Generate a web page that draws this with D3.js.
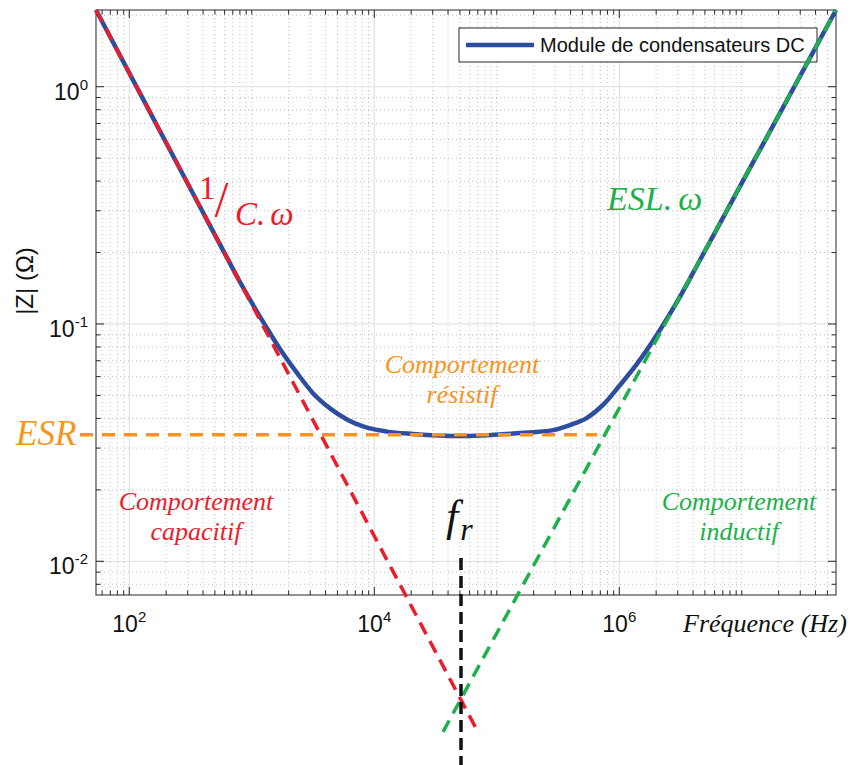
<!DOCTYPE html>
<html><head><meta charset="utf-8">
<script src="https://cdn.jsdelivr.net/npm/d3@7"></script>
<style>body{margin:0;background:#fff} svg{display:block}</style>
</head><body><svg id="c" width="850" height="765"></svg>
<script>
// ---- data ----
const freq = [53.5, 147.5, 377.7, 604.2, 801, 1306, 1699, 2339, 3159, 4349, 5987, 8087, 12700, 20700, 50060, 154700, 287500, 395900, 544900, 736200, 1013000, 1395000, 2149000, 2958000, 4559000, 9667000, 24750000, 58750000];
const zmod = [2.105, 0.7815, 0.312, 0.1974, 0.1503, 0.0975, 0.0784, 0.0622, 0.0511, 0.0441, 0.0396, 0.0370, 0.0352, 0.0344, 0.0337, 0.0347, 0.0357, 0.0375, 0.0402, 0.0456, 0.0553, 0.0679, 0.0943, 0.1238, 0.1861, 0.380, 0.9263, 2.105];
const capF = [53.5, 71560];      // 1/(C.w) asymptote
const capZ = [2.105, 0.001872];
const indF = [36380, 58750000];  // ESL.w asymptote
const indZ = [0.001909, 2.105];
const esrF = [39.6, 657700];     // ESR level
const esrZ = [0.0341, 0.0341];
const frF = [51030, 51030];      // resonance frequency
const frZ = [0.01032, 0.001385];
const xTickVals = [1e2, 1e4, 1e6];
const xTickExp = ["2", "4", "6"];
const yTickVals = [1e-2, 1e-1, 1e0];
const yTickExp = ["-2", "-1", "0"];
const legendLabel = "Module de condensateurs DC";
const xLabel = "Fréquence (Hz)";
const yLabel = "|Z| (Ω)";

// ---- layout ----
const L = 96, R = 836, T = 10, B = 595;
const x = d3.scaleLog().domain([53.5, 5.875e7]).range([L, R]);
const y = d3.scaleLog().domain([0.00721, 2.105]).range([B, T]);
const svg = d3.select("#c");
const sans = "'Liberation Sans', Arial, sans-serif";
const serif = "'Liberation Serif', 'Times New Roman', serif";

// minor values
const xMinor = [], yMinor = [];
for (let e = 1; e <= 7; e++) for (let k = 1; k <= 9; k++) {
  const v = k * Math.pow(10, e);
  if (v > 53.5 && v < 5.875e7 && !xTickVals.includes(v)) xMinor.push(v);
}
for (let e = -3; e <= 0; e++) for (let k = 1; k <= 9; k++) {
  const v = +(k * Math.pow(10, e)).toPrecision(6);
  if (v > 0.00721 && v < 2.105 && !yTickVals.some(t => Math.abs(t - v) < 1e-12)) yMinor.push(v);
}

// grid
const g = svg.append("g");
g.selectAll(".mx").data(xMinor).join("line").attr("x1", d => x(d)).attr("x2", d => x(d))
  .attr("y1", T).attr("y2", B).attr("stroke", "#b0b0b0").attr("stroke-width", 0.8).attr("stroke-dasharray", "1,3");
g.selectAll(".my").data(yMinor).join("line").attr("y1", d => y(d)).attr("y2", d => y(d))
  .attr("x1", L).attr("x2", R).attr("stroke", "#b0b0b0").attr("stroke-width", 0.8).attr("stroke-dasharray", "1,3");
g.selectAll(".Mx").data(xTickVals).join("line").attr("x1", d => x(d)).attr("x2", d => x(d))
  .attr("y1", T).attr("y2", B).attr("stroke", "#dedede").attr("stroke-width", 1);
g.selectAll(".My").data(yTickVals).join("line").attr("y1", d => y(d)).attr("y2", d => y(d))
  .attr("x1", L).attr("x2", R).attr("stroke", "#dedede").attr("stroke-width", 1);

// axes with inward ticks, box
const ax = svg.append("g").attr("stroke", "#262626").attr("stroke-width", 1);
function tickX(vals, len) {
  vals.forEach(v => {
    ax.append("line").attr("x1", x(v)).attr("x2", x(v)).attr("y1", B).attr("y2", B - len);
    ax.append("line").attr("x1", x(v)).attr("x2", x(v)).attr("y1", T).attr("y2", T + len);
  });
}
function tickY(vals, len) {
  vals.forEach(v => {
    ax.append("line").attr("y1", y(v)).attr("y2", y(v)).attr("x1", L).attr("x2", L + len);
    ax.append("line").attr("y1", y(v)).attr("y2", y(v)).attr("x1", R).attr("x2", R - len);
  });
}
tickX(xMinor, 4.5); tickX(xTickVals, 8);
tickY(yMinor, 4.5); tickY(yTickVals, 8);
ax.append("rect").attr("x", L).attr("y", T).attr("width", R - L).attr("height", B - T).attr("fill", "none");

// tick labels
xTickVals.forEach((v, i) => {
  const t = svg.append("text").attr("x", x(v)).attr("y", 632).attr("text-anchor", "middle")
    .attr("font-family", sans).attr("font-size", 23).attr("fill", "#111");
  t.append("tspan").text("10");
  t.append("tspan").attr("dy", -10).attr("font-size", 15).text(xTickExp[i]);
});
yTickVals.forEach((v, i) => {
  const t = svg.append("text").attr("x", 88).attr("y", y(v) + 13).attr("text-anchor", "end")
    .attr("font-family", sans).attr("font-size", 23).attr("fill", "#111");
  t.append("tspan").text("10");
  t.append("tspan").attr("dy", -10).attr("font-size", 15).text(yTickExp[i]);
});

// axis labels
svg.append("text").attr("transform", "translate(33,281) rotate(-90)").attr("text-anchor", "middle")
  .attr("font-family", sans).attr("font-size", 24).attr("fill", "#111").text(yLabel);
svg.append("text").attr("x", 683).attr("y", 632).attr("font-family", serif).attr("font-style", "italic")
  .attr("font-size", 26).attr("fill", "#111").text(xLabel);

// legend
const lg = svg.append("g");
lg.append("rect").attr("x", 459).attr("y", 28).attr("width", 358).attr("height", 34)
  .attr("fill", "#fff").attr("stroke", "#262626").attr("stroke-width", 1);
lg.append("line").attr("x1", 466).attr("x2", 534).attr("y1", 45).attr("y2", 45)
  .attr("stroke", "#2d4d9e").attr("stroke-width", 4.5);
lg.append("text").attr("x", 540).attr("y", 52).attr("font-family", sans).attr("font-size", 20)
  .attr("fill", "#111").text(legendLabel);

// curve
const pts = freq.map((f, i) => [x(f), y(zmod[i])]);
svg.append("path").attr("d", d3.line().curve(d3.curveMonotoneX)(pts))
  .attr("fill", "none").attr("stroke", "#2d4d9e").attr("stroke-width", 4.5).attr("stroke-linejoin", "round");

// asymptotes
function dashed(fs, zs, col, w, dash) {
  svg.append("path").attr("d", d3.line()(fs.map((f, i) => [x(f), y(zs[i])])))
    .attr("fill", "none").attr("stroke", col).attr("stroke-width", w).attr("stroke-dasharray", dash);
}
dashed(esrF, esrZ, "#f7941d", 3.5, "13,9");
dashed(capF, capZ, "#ec1c2b", 3.5, "13,8");
dashed(indF, indZ, "#1db04b", 3.5, "13,8");
dashed(frF, frZ, "#111", 3.5, "12,6");

// annotations
const red = "#ec1c2b", orange = "#f7941d", green = "#1db04b";
const one = svg.append("text").attr("x", 199).attr("y", 199).attr("font-family", serif).attr("fill", red);
one.append("tspan").attr("font-size", 33).text("1");
one.append("tspan").attr("font-size", 50).attr("dx", -1).attr("dy", 17).text("/");
const cw = svg.append("text").attr("x", 235).attr("y", 225).attr("font-family", serif).attr("font-style", "italic").attr("font-size", 33).attr("fill", red);
cw.append("tspan").text("C.");
cw.append("tspan").attr("dx", 5).text("ω");
const esl = svg.append("text").attr("x", 607).attr("y", 210).attr("font-family", serif).attr("font-style", "italic").attr("font-size", 34).attr("fill", green);
esl.append("tspan").text("ESL.");
esl.append("tspan").attr("dx", 6).text("ω");
svg.append("text").attr("x", 16).attr("y", 445).attr("font-family", serif).attr("font-style", "italic").attr("font-size", 35).attr("fill", orange).text("ESR");
function twoLines(cx, y1, l1, l2, col) {
  const t = svg.append("text").attr("text-anchor", "middle").attr("font-family", serif).attr("font-style", "italic")
    .attr("font-size", 26).attr("fill", col);
  t.append("tspan").attr("x", cx).attr("y", y1).text(l1);
  t.append("tspan").attr("x", cx).attr("y", y1 + 30).text(l2);
}
twoLines(196, 510, "Comportement", "capacitif", red);
twoLines(462, 373, "Comportement", "résistif", orange);
twoLines(739, 510, "Comportement", "inductif", green);
const fr = svg.append("text").attr("x", 446).attr("y", 531).attr("font-family", serif).attr("font-style", "italic").attr("font-size", 44).attr("fill", "#111");
fr.append("tspan").text("f");
fr.append("tspan").attr("dx", 2).attr("dy", 9).attr("font-size", 32).text("r");
</script></body></html>
